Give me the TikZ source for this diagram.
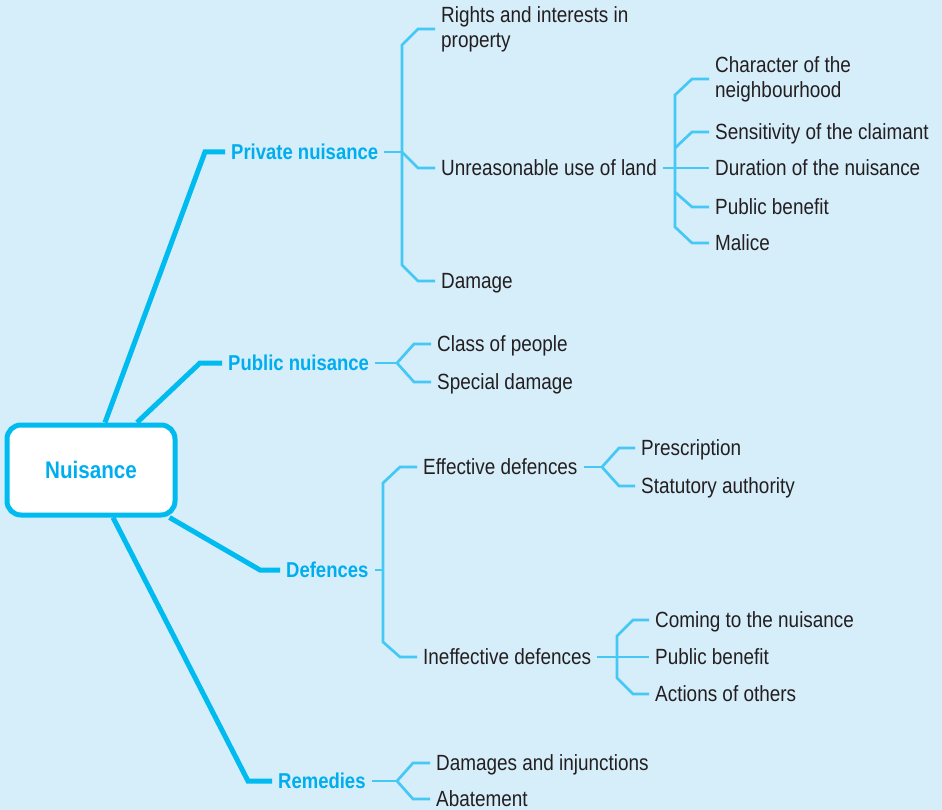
\documentclass[tikz,border=0pt]{standalone}
\usepackage{fontspec}
\setmainfont{Liberation Sans}[FakeStretch=0.86]
\definecolor{bgc}{RGB}{214,237,250}
\definecolor{trunkc}{RGB}{0,187,240}
\definecolor{twigc}{RGB}{70,200,245}
\definecolor{topicc}{RGB}{0,174,239}
\definecolor{inkc}{RGB}{35,31,32}

\begin{document}
\begin{tikzpicture}[x=1pt, y=-1pt,
        hub/.style={draw=trunkc, line width=5pt, rounded corners=14pt, fill=white,
            minimum width=168pt, minimum height=90pt, text=topicc,
            font=\bfseries\fontsize{24}{28}\selectfont},
        topic/.style={anchor=west, inner xsep=6pt, inner ysep=2pt, text height=15.5pt,
            text depth=0pt, text=topicc, font=\bfseries\fontsize{21.5}{25}\selectfont},
        leaf/.style={anchor=west, inner xsep=6pt, inner ysep=2pt, text=inkc,
            font=\fontsize{22}{25}\selectfont},
        oneline/.style={leaf, text height=15.75pt, text depth=0pt},
        twoline/.style={leaf, align=left},
        trunk/.style={draw=trunkc, line width=5pt},
        twig/.style={draw=twigc, line width=2.7pt},
    ]
    \useasboundingbox (0,0) rectangle (942,810);
    \fill[bgc] (0,0) rectangle (942,810);

    \node[hub] (hub) at (91,470) {Nuisance};

    \node[topic] (priv) at (225,152) {Private nuisance};
    \node[topic] (pub) at (222,363) {Public nuisance};
    \node[topic] (def) at (280,570) {Defences};
    \node[topic] (rem) at (272,781) {Remedies};

    \node[twoline] (rights) at (435,29) {Rights and interests in\\property};
    \node[oneline] (unreas) at (435,168) {Unreasonable use of land};
    \node[oneline] (damage) at (435,281) {Damage};

    \node[twoline] (charac) at (709,79) {Character of the\\neighbourhood};
    \node[oneline] (sensi) at (709,132) {Sensitivity of the claimant};
    \node[oneline] (durat) at (709,168) {Duration of the nuisance};
    \node[oneline] (pbenef) at (709,207) {Public benefit};
    \node[oneline] (malice) at (709,243) {Malice};

    \node[oneline] (cls) at (431,344) {Class of people};
    \node[oneline] (spdam) at (431,382) {Special damage};

    \node[oneline] (effdef) at (417,467) {Effective defences};
    \node[oneline] (ineffdef) at (417,657) {Ineffective defences};
    \node[oneline] (presc) at (635,448) {Prescription};
    \node[oneline] (stat) at (635,486) {Statutory authority};
    \node[oneline] (coming) at (649,620) {Coming to the nuisance};
    \node[oneline] (pbenef2) at (649,657) {Public benefit};
    \node[oneline] (others) at (649,694) {Actions of others};

    \node[oneline] (dmginj) at (430,763) {Damages and injunctions};
    \node[oneline] (abate) at (430,799) {Abatement};

    % main branches
    \draw[trunk] ([xshift=14pt]hub.north) -- (205,152) -- (priv.west);
    \draw[trunk] ([xshift=46pt]hub.north) -- (200,363) -- (pub.west);
    \draw[trunk] ([xshift=-8pt]hub.south east) -- (260,570) -- (def.west);
    \draw[trunk] ([xshift=22pt]hub.south) -- (248,781) -- (rem.west);

    % private nuisance
    \draw[twig] (priv.east) -- (402,152);
    \draw[twig] (rights.west) -- (418,29) -- (402,45) -- (402,265) -- (418,281) -- (damage.west);
    \draw[twig] (402,152) -- (418,168) -- (unreas.west);
    \draw[twig] (unreas.east) -- (675,168);
    \draw[twig] (charac.west) -- (692,79) -- (675,95) -- (675,227) -- (692,243) -- (malice.west);
    \draw[twig] (675,148) -- (692,132) -- (sensi.west);
    \draw[twig] (675,168) -- (durat.west);
    \draw[twig] (675,192) -- (692,207) -- (pbenef.west);

    % public nuisance
    \draw[twig] (pub.east) -- (397,363);
    \draw[twig] (cls.west) -- (414,344) -- (397,363) -- (414,382) -- (spdam.west);

    % defences
    \draw[twig] (def.east) -- (383,570);
    \draw[twig] (effdef.west) -- (400,467) -- (383,483) -- (383,642) -- (400,657) -- (ineffdef.west);
    \draw[twig] (effdef.east) -- (602,467);
    \draw[twig] (presc.west) -- (619,448) -- (602,467) -- (619,486) -- (stat.west);
    \draw[twig] (ineffdef.east) -- (617,657);
    \draw[twig] (coming.west) -- (633,620) -- (617,636) -- (617,678) -- (633,694) -- (others.west);
    \draw[twig] (617,657) -- (pbenef2.west);

    % remedies
    \draw[twig] (rem.east) -- (397,781);
    \draw[twig] (dmginj.west) -- (413,763) -- (397,781) -- (413,799) -- (abate.west);
\end{tikzpicture}
\end{document}
